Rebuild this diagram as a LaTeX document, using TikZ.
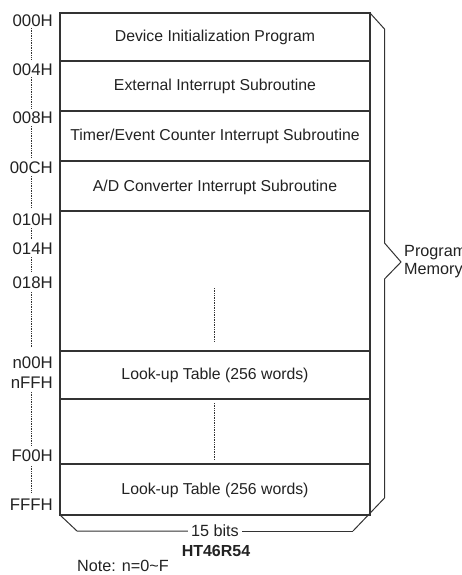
\documentclass[tikz,border=0pt]{standalone}
\usepackage{fontspec}
\setmainfont{Liberation Sans}
\definecolor{ln}{HTML}{333333}
\definecolor{tx}{HTML}{222222}
\begin{document}
\begin{tikzpicture}[x=1pt,y=-1pt,
  boxline/.style={draw=ln,line width=1.4pt},
  brline/.style={draw=ln,line width=1pt,line join=miter},
  dotline/.style={draw=ln,line width=0.8pt,dash pattern=on 0.8pt off 0.9pt},
  rowtext/.style={text=tx,font=\fontsize{15.8}{18}\selectfont,inner sep=0pt},
  addr/.style={text=tx,font=\fontsize{16.8}{18}\selectfont,anchor=east,inner sep=0pt},
  small/.style={text=tx,font=\fontsize{16.2}{18}\selectfont,inner sep=0pt}]
\useasboundingbox (0,0) rectangle (462,575);
% main box
\draw[boxline] (60,13) rectangle (370,515);
\foreach \yy in {61,111,161,211,351,399,464}
  \draw[boxline] (60,\yy) -- (370,\yy);
% row texts
\node[rowtext] (r1) at (215,37) {Device Initialization Program};
\node[rowtext] (r2) at (215,86) {External Interrupt Subroutine};
\node[rowtext] (r3) at (215,136) {Timer/Event Counter Interrupt Subroutine};
\node[rowtext] (r4) at (215,187) {A/D Converter Interrupt Subroutine};
\node[rowtext] (r5) at (215,375) {Look-up Table (256 words)};
\node[rowtext] (r6) at (215,490) {Look-up Table (256 words)};
% middle dotted
\draw[dotline] (214.5,288) -- (214.5,342);
\draw[dotline] (214.5,403) -- (214.5,460);
% address labels
\node[addr] (a0) at (53,21) {000H};
\node[addr] (a1) at (53,70) {004H};
\node[addr] (a2) at (53,118) {008H};
\node[addr] (a3) at (53,168) {00CH};
\node[addr] (a4) at (53,220) {010H};
\node[addr] (a5) at (53,249) {014H};
\node[addr] (a6) at (53,283) {018H};
\node[addr] (a7) at (53,363) {n00H};
\node[addr] (a8) at (53,383) {nFFH};
\node[addr] (a9) at (53,456) {F00H};
\node[addr] (a10) at (53,505) {FFFH};
% left dotted
\draw[dotline] (31,28) -- (31,60);
\draw[dotline] (31,77) -- (31,108);
\draw[dotline] (31,126) -- (31,158);
\draw[dotline] (31,176) -- (31,208);
\draw[dotline] (31,228) -- (31,239);
\draw[dotline] (31,257) -- (31,272);
\draw[dotline] (31,292) -- (31,347);
\draw[dotline] (31,392) -- (31,445);
\draw[dotline] (31,466) -- (31,492);
% right bracket
\draw[brline] (370,13) -- (384.5,29) -- (384.5,243) -- (401,262) -- (384.5,279) -- (384.5,498) -- (353,531);
\node[small,anchor=west,align=left] (pm) at (404,262) {Program\\Memory};
% bottom bracket
\node[small] (bits) at (215,531) {15 bits};
\draw[brline] (60,515) -- (77,531) -- ([xshift=-3pt]bits.west);
\draw[brline] ([xshift=3pt]bits.east) -- (353,531);
\node[small,font=\bfseries\fontsize{16}{18}\selectfont] (chip) at (216,551) {HT46R54};
\node[small,anchor=west] (note) at (77,566) {Note: n=0\textasciitilde F};
\end{tikzpicture}
\end{document}
